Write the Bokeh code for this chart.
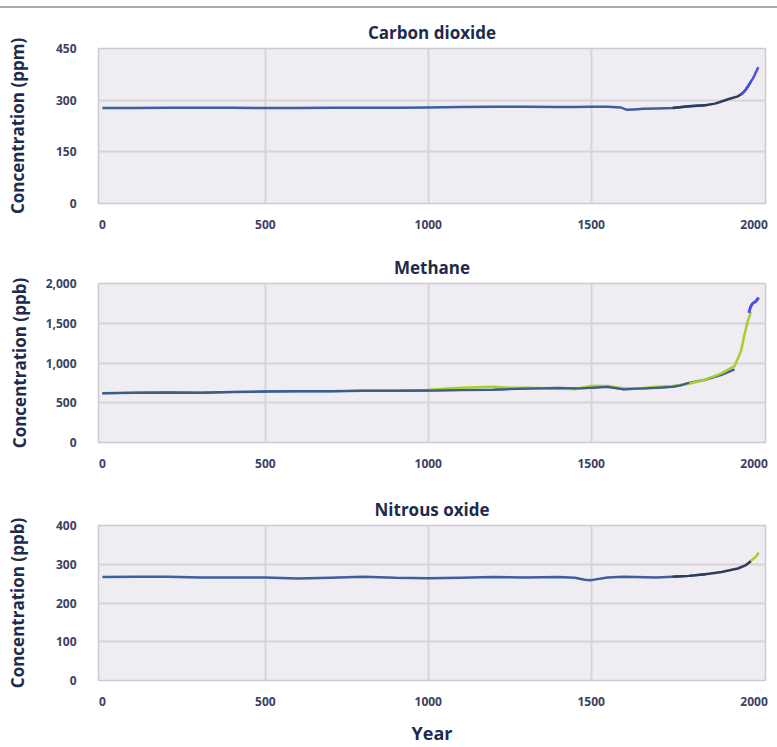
from bokeh.plotting import figure
from bokeh.layouts import column
from bokeh.models import Div, NumeralTickFormatter, FixedTicker, Range1d
from bokeh.embed import file_html
from bokeh.resources import INLINE

# ---------------- data ----------------
x_ticks = [0, 500, 1000, 1500, 2000]
co2_ticks = [0, 150, 300, 450]
ch4_ticks = [0, 500, 1000, 1500, 2000]
n2o_ticks = [0, 100, 200, 300, 400]

# Carbon dioxide (ppm)
co2_ice_years = [0, 100, 200, 300, 400, 500, 600, 700, 800, 900, 1000, 1100, 1200, 1300,
                 1400, 1450, 1500, 1550, 1590, 1610, 1630, 1660, 1700, 1750, 1800, 1850]
co2_ice_vals = [277, 277, 278, 278, 278, 277, 277, 278, 278, 278, 279, 280, 281, 281,
                280, 280, 281, 281, 279, 272, 273, 275, 276, 277, 282, 285]
co2_law_years = [1750, 1800, 1850, 1880, 1900, 1925, 1950, 1960, 1970, 1980, 1990]
co2_law_vals = [277, 282, 285, 290, 296, 304, 311, 317, 325, 338, 353]
co2_inst_years = [1959, 1965, 1970, 1975, 1980, 1985, 1990, 1995, 2000, 2005, 2010, 2013]
co2_inst_vals = [316, 320, 326, 331, 339, 346, 354, 361, 369, 380, 390, 396]

# Methane (ppb)
ch4_ice_years = [0, 100, 200, 300, 400, 500, 600, 700, 800, 900, 1000, 1100, 1200, 1300,
                 1400, 1450, 1500, 1550, 1600, 1650, 1700, 1750, 1775, 1800, 1850, 1900, 1940]
ch4_ice_vals = [620, 625, 630, 625, 635, 640, 645, 645, 650, 650, 655, 660, 665, 680,
                685, 680, 690, 700, 670, 680, 690, 700, 720, 750, 790, 850, 920]
ch4_law_years = [1000, 1100, 1200, 1250, 1300, 1400, 1450, 1500, 1550, 1600, 1650, 1700,
                 1750, 1800, 1850, 1900, 1940, 1960, 1970, 1980, 1990]
ch4_law_vals = [665, 690, 700, 690, 690, 680, 670, 710, 710, 680, 680, 700,
                710, 740, 790, 870, 960, 1150, 1350, 1520, 1640]
ch4_inst_years = [1984, 1988, 1992, 1996, 2000, 2004, 2008, 2011, 2014]
ch4_inst_vals = [1630, 1690, 1730, 1750, 1760, 1770, 1790, 1805, 1825]

# Nitrous oxide (ppb)
n2o_ice_years = [0, 100, 200, 300, 400, 500, 600, 700, 800, 900, 1000, 1100, 1200, 1300,
                 1400, 1450, 1480, 1500, 1550, 1600, 1700, 1750, 1800, 1850]
n2o_ice_vals = [267, 268, 268, 266, 266, 266, 263, 265, 268, 265, 264, 265, 267, 266,
                267, 265, 260, 259, 266, 268, 266, 268, 270, 274]
n2o_law_years = [1750, 1800, 1850, 1900, 1950, 1975, 1990]
n2o_law_vals = [268, 270, 274, 280, 289, 298, 308]
n2o_inst_years = [1978, 1985, 1990, 1995, 2000, 2005, 2010, 2014]
n2o_inst_vals = [300, 305, 309, 312, 316, 319, 324, 330]

# ---------------- styling ----------------
FONT = "Open Sans"
NAVY = "#1E2B4C"
TICK_COL = "#3A4262"
BG = "#EFECF2"
GRID = "#D6D4DB"
BLUE = "#3D5F9F"
DARK = "#2C3C5A"
GREEN = "#A9CD2C"
PURPLE = "#4C50DE"


def panel(title, ylabel, yticks, ymax, series, height, top, bottom,
          ylabel_standoff, xlabel=None, comma=False):
    p = figure(width=777, height=height, output_backend="svg", toolbar_location=None,
               x_range=Range1d(-12, 2035), y_range=Range1d(0, ymax),
               min_border_left=98, min_border_right=12,
               min_border_top=top, min_border_bottom=bottom)
    p.title.text = title
    p.title.align = "center"
    p.title.text_font = FONT
    p.title.text_font_size = "17px"
    p.title.text_font_style = "bold"
    p.title.text_color = NAVY
    p.title.standoff = 10
    p.background_fill_color = BG
    p.border_fill_color = "white"
    p.outline_line_color = "#CCCAD2"
    p.outline_line_width = 1.5

    for ax in (p.xaxis[0], p.yaxis[0]):
        ax.axis_line_color = None
        ax.major_tick_line_color = None
        ax.minor_tick_line_color = None
        ax.major_label_text_font = FONT
        ax.major_label_text_font_size = "12px"
        ax.major_label_text_font_style = "bold"
        ax.major_label_text_color = TICK_COL
    p.xaxis.ticker = FixedTicker(ticks=x_ticks)
    p.yaxis.ticker = FixedTicker(ticks=yticks)
    p.xaxis.major_label_standoff = 10
    p.yaxis.major_label_standoff = 16
    if comma:
        p.yaxis.formatter = NumeralTickFormatter(format="0,0")

    p.yaxis.axis_label = ylabel
    p.yaxis.axis_label_text_font = FONT
    p.yaxis.axis_label_text_font_size = "17px"
    p.yaxis.axis_label_text_font_style = "bold"
    p.yaxis.axis_label_text_color = NAVY
    p.yaxis.axis_label_standoff = ylabel_standoff
    if xlabel:
        p.xaxis.axis_label = xlabel
        p.xaxis.axis_label_text_font = FONT
        p.xaxis.axis_label_text_font_size = "18px"
        p.xaxis.axis_label_text_font_style = "bold"
        p.xaxis.axis_label_text_color = NAVY
        p.xaxis.axis_label_standoff = 12

    p.grid.grid_line_color = GRID
    p.grid.grid_line_width = 2
    p.xgrid.ticker = FixedTicker(ticks=[500, 1000, 1500])
    p.ygrid.ticker = FixedTicker(ticks=yticks[1:-1])

    for xs, ys, col, w in series:
        p.line(xs, ys, line_color=col, line_width=w, line_join="round")
    return p


p1 = panel("Carbon dioxide", "Concentration (ppm)", co2_ticks, 450,
           [(co2_ice_years, co2_ice_vals, BLUE, 2.5),
            (co2_law_years, co2_law_vals, DARK, 2.5),
            (co2_inst_years, co2_inst_vals, PURPLE, 2.5)],
           232, 40, 37, 24)
p2 = panel("Methane", "Concentration (ppb)", ch4_ticks, 2000,
           [(ch4_ice_years, ch4_ice_vals, BLUE, 2.5),
            (ch4_law_years, ch4_law_vals, GREEN, 2.5),
            (ch4_ice_years[:24], ch4_ice_vals[:24], "#3B5E86", 2.0),
            (ch4_inst_years, ch4_inst_vals, PURPLE, 3)],
           240, 43, 38, 12, comma=True)
p3 = panel("Nitrous oxide", "Concentration (ppb)", n2o_ticks, 400,
           [(n2o_ice_years, n2o_ice_vals, BLUE, 2.5),
            (n2o_inst_years, n2o_inst_vals, GREEN, 2.5),
            (n2o_law_years, n2o_law_vals, DARK, 2.5)],
           267, 45, 66, 24, xlabel="Year")

top_rule = Div(text="", width=777, height=8, margin=(0, 0, 0, 0),
               styles={"border-bottom": "2px solid #A9A9A9", "box-sizing": "border-box"})

layout = column(top_rule, p1, p2, p3, spacing=0)
open("out.html", "w").write(file_html(layout, INLINE))
